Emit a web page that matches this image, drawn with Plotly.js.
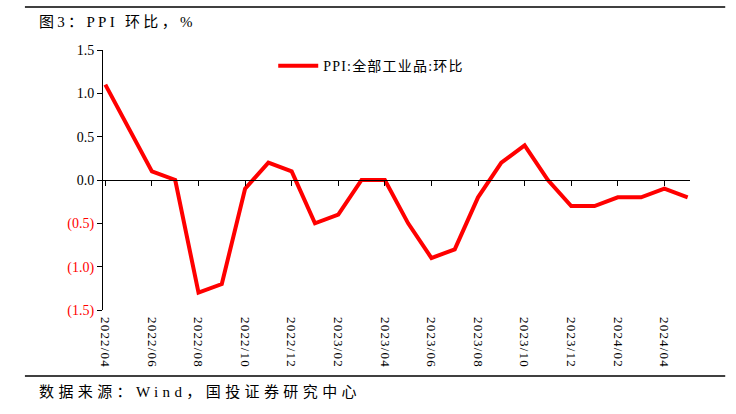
<!DOCTYPE html>
<html>
<head>
<meta charset="utf-8">
<script src="https://cdn.plot.ly/plotly-3.0.1.min.js"></script>
<style>html,body{margin:0;padding:0;background:#fff;}#chart{width:736px;height:414px;}</style>
</head>
<body>
<div id="chart"></div>
<script>
const months = ["2022/04","2022/05","2022/06","2022/07","2022/08","2022/09","2022/10","2022/11","2022/12",
  "2023/01","2023/02","2023/03","2023/04","2023/05","2023/06","2023/07","2023/08","2023/09","2023/10","2023/11","2023/12",
  "2024/01","2024/02","2024/03","2024/04","2024/05"];
const ppiMoM = [1.1,0.6,0.1,0.0,-1.3,-1.2,-0.1,0.2,0.1,-0.5,-0.4,0.0,0.0,-0.5,-0.9,-0.8,-0.2,0.2,0.4,0.0,-0.3,-0.3,-0.2,-0.2,-0.1,-0.2];
const xTickLabels = ["2022/04","2022/06","2022/08","2022/10","2022/12","2023/02","2023/04","2023/06","2023/08","2023/10","2023/12","2024/02","2024/04"];
const yTickVals = [-1.5,-1.0,-0.5,0.0,0.5,1.0,1.5];
const yTickText = ['<span style="color:#ff0000">(1.5)</span>','<span style="color:#ff0000">(1.0)</span>','<span style="color:#ff0000">(0.5)</span>','0.0','0.5','1.0','1.5'];
const seriesName = "PPI:全部工业品:环比";
const titleText = "图3：PPI 环比，%";
const sourceText = "数据来源：Wind，国投证券研究中心";

const serif = "Liberation Serif, Times New Roman, Noto Sans CJK SC, serif";
const xr = [-0.1, 25.1];

const traces = [
  {x: months, y: ppiMoM, type: 'scatter', mode: 'lines', name: seriesName,
   line: {color: '#ff0000', width: 4}, xaxis: 'x', yaxis: 'y', hoverinfo: 'skip'},
  {x: months, y: ppiMoM, type: 'scatter', mode: 'lines', showlegend: false,
   line: {color: 'rgba(0,0,0,0)', width: 0}, xaxis: 'x2', yaxis: 'y', hoverinfo: 'skip'}
];

const layout = {
  width: 736, height: 414,
  margin: {l: 103, r: 46, t: 50, b: 104},
  paper_bgcolor: '#fff', plot_bgcolor: '#fff',
  showlegend: true,
  legend: {x: 0.29, y: 0.938, xanchor: 'left', yanchor: 'middle', bgcolor: 'rgba(0,0,0,0)',
    font: {family: serif, size: 14, color: '#000'}, itemwidth: 40},
  xaxis: {type: 'category', categoryorder: 'array', categoryarray: months, range: xr,
    tickmode: 'array', tickvals: xTickLabels, ticktext: xTickLabels, tickangle: 90,
    ticks: '', showline: false, showgrid: false, zeroline: false,
    tickfont: {family: serif, size: 13, color: '#000'}, ticklabelstandoff: 6, fixedrange: true},
  xaxis2: {type: 'category', categoryorder: 'array', categoryarray: months, range: xr,
    overlaying: 'x', anchor: 'free', position: 0.5,
    tickmode: 'array', tickvals: xTickLabels, showticklabels: false,
    ticks: 'outside', ticklen: 5, tickwidth: 1, tickcolor: '#000',
    showline: true, linecolor: '#000', linewidth: 1, showgrid: false, zeroline: false, fixedrange: true},
  yaxis: {range: [-1.5, 1.5], tickmode: 'array', tickvals: yTickVals, ticktext: yTickText,
    ticks: 'outside', ticklen: 5, tickwidth: 1, tickcolor: '#000',
    showline: true, linecolor: '#000', linewidth: 1, showgrid: false, zeroline: false,
    tickfont: {family: serif, size: 14, color: '#000'}, fixedrange: true},
  shapes: [
    {type: 'line', xref: 'paper', yref: 'paper', x0: -0.133, x1: 1.06, y0: 1.165, y1: 1.165, line: {color: '#000', width: 1.5}},
    {type: 'line', xref: 'paper', yref: 'paper', x0: -0.133, x1: 1.06, y0: -0.254, y1: -0.254, line: {color: '#000', width: 1.5}}
  ],
  annotations: [
    {text: titleText, xref: 'paper', yref: 'paper', x: -0.1124, y: 1.108, xanchor: 'left', yanchor: 'middle',
     showarrow: false, font: {family: serif, size: 15, color: '#000'}},
    {text: sourceText, xref: 'paper', yref: 'paper', x: -0.1124, y: -0.315, xanchor: 'left', yanchor: 'middle',
     showarrow: false, font: {family: serif, size: 15, color: '#000'}}
  ]
};

function spaceText(t, spacing) {
  const b1 = t.getBBox();
  t.setAttribute('letter-spacing', spacing);
  const b2 = t.getBBox();
  const x = parseFloat(t.getAttribute('x') || '0');
  t.setAttribute('x', x + (b1.x - b2.x));
}

Plotly.newPlot('chart', traces, layout, {displayModeBar: false, staticPlot: true}).then(function (gd) {
  const ann = gd.querySelectorAll('.annotation-text');
  if (ann[0]) spaceText(ann[0], '3.3px');
  if (ann[1]) spaceText(ann[1], '4.4px');
  gd.querySelectorAll('.xtick text').forEach(function (t) { t.setAttribute('letter-spacing', '1.2px'); });
  gd.querySelectorAll('.legend [clip-path]').forEach(function (e) { e.removeAttribute('clip-path'); });
  gd.querySelectorAll('.legendtext').forEach(function (t) { t.setAttribute('letter-spacing', '1.2px'); });
});
</script>
</body>
</html>
